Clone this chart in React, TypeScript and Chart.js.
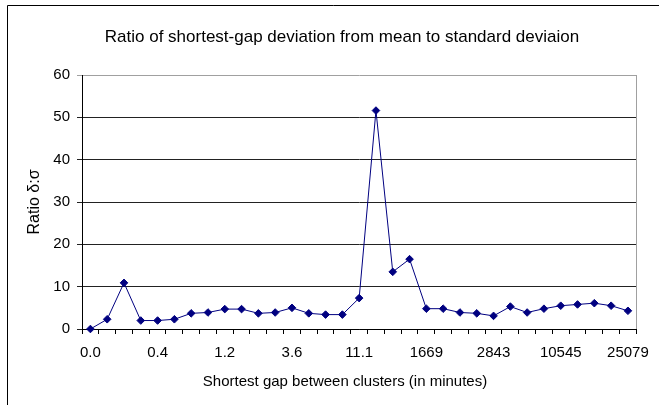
import React, { useEffect, useRef } from "react";
import { Chart, registerables } from "chart.js";

Chart.register(...registerables);

const tickLabels = ["0.0", "0.4", "1.2", "3.6", "11.1", "1669", "2843", "10545", "25079"];
const ratioValues = [
  0, 2.3, 10.9, 2.0, 2.0, 2.3, 3.7, 3.9, 4.7, 4.7, 3.7, 3.9, 5.0, 3.7, 3.4, 3.4,
  7.3, 51.6, 13.5, 16.5, 4.8, 4.8, 3.9, 3.7, 3.1, 5.3, 3.9, 4.8, 5.5, 5.8, 6.1, 5.5, 4.3,
];
const labelEvery = 4;
const categories = ratioValues.map((_, i) => (i % labelEvery === 0 ? tickLabels[i / labelEvery] : ""));

const chartTitle = "Ratio of shortest-gap deviation from mean to standard deviaion";
const xTitle = "Shortest gap between clusters (in minutes)";
const yTitle = "Ratio δ:σ";

const FONT = "'Liberation Sans', Arial, sans-serif";

const framePlugin = {
  id: "frame",
  afterDraw(chart: any) {
    const { ctx, chartArea } = chart;
    ctx.save();
    ctx.strokeStyle = "#000";
    ctx.lineWidth = 1;
    ctx.beginPath();
    ctx.moveTo(7.5, 405);
    ctx.lineTo(7.5, 5.5);
    ctx.lineTo(659, 5.5);
    ctx.stroke();
    ctx.strokeStyle = "#a0a0a0";
    ctx.beginPath();
    ctx.moveTo(Math.round(chartArea.right) + 0.5, chartArea.top);
    ctx.lineTo(Math.round(chartArea.right) + 0.5, chartArea.bottom);
    ctx.stroke();

    ctx.fillStyle = "#000";
    ctx.textAlign = "center";
    ctx.textBaseline = "middle";
    ctx.font = `17px ${FONT}`;
    ctx.fillText(chartTitle, 342, 37);
    ctx.font = `15px ${FONT}`;
    ctx.fillText(xTitle, 345, 382);
    ctx.restore();
  },
};

export default function App() {
  const ref = useRef<HTMLCanvasElement | null>(null);
  useEffect(() => {
    if (!ref.current) return;
    const chart = new Chart(ref.current, {
      type: "line",
      data: {
        labels: categories,
        datasets: [
          {
            data: ratioValues,
            borderColor: "#000080",
            backgroundColor: "#000080",
            borderWidth: 1,
            pointStyle: "rectRot",
            pointRadius: 3.8,
            pointBorderWidth: 1,
            pointBorderColor: "#000080",
            pointBackgroundColor: "#000080",
            tension: 0,
            clip: false as any,
          },
        ],
      },
      options: {
        animation: false,
        responsive: false,
        devicePixelRatio: 1,
        layout: { padding: { left: 0, right: 14, top: 75, bottom: 0 } },
        plugins: {
          legend: { display: false },
          tooltip: { enabled: false },
          title: { display: false },
        },
        scales: {
          x: {
            type: "category",
            offset: true,
            grid: {
              offset: true,
              drawOnChartArea: false,
              drawTicks: true,
              tickLength: 5,
              color: "#000",
            },
            border: { display: true, color: "#000", width: 1 },
            ticks: {
              autoSkip: false,
              maxRotation: 0,
              color: "#000",
              padding: 10,
              font: { family: FONT, size: 15 },
              callback: (_v: any, i: number) => categories[i],
            },
            title: { display: false },
            afterFit: (s: any) => {
              s.height = 76;
            },
          },
          y: {
            min: 0,
            max: 60,
            ticks: {
              stepSize: 10,
              color: "#000",
              padding: 7,
              font: { family: FONT, size: 15 },
            },
            grid: {
              drawTicks: true,
              tickLength: 5,
              color: (c: any) => (c.tick && c.tick.value === 60 ? "#a0a0a0" : "#222"),
            },
            border: { display: true, color: "#000", width: 1 },
            title: {
              display: true,
              text: yTitle,
              color: "#000",
              font: { family: FONT, size: 16 },
              padding: { top: 25.4, bottom: 0 },
            },
            afterFit: (s: any) => {
              s.width = 82;
            },
          },
        },
      },
      plugins: [framePlugin],
    });
    return () => chart.destroy();
  }, []);
  return (
    <canvas
      ref={ref}
      width={659}
      height={405}
      style={{ position: "fixed", left: 0, top: 0, width: 659, height: 405, background: "#fff" }}
    />
  );
}
